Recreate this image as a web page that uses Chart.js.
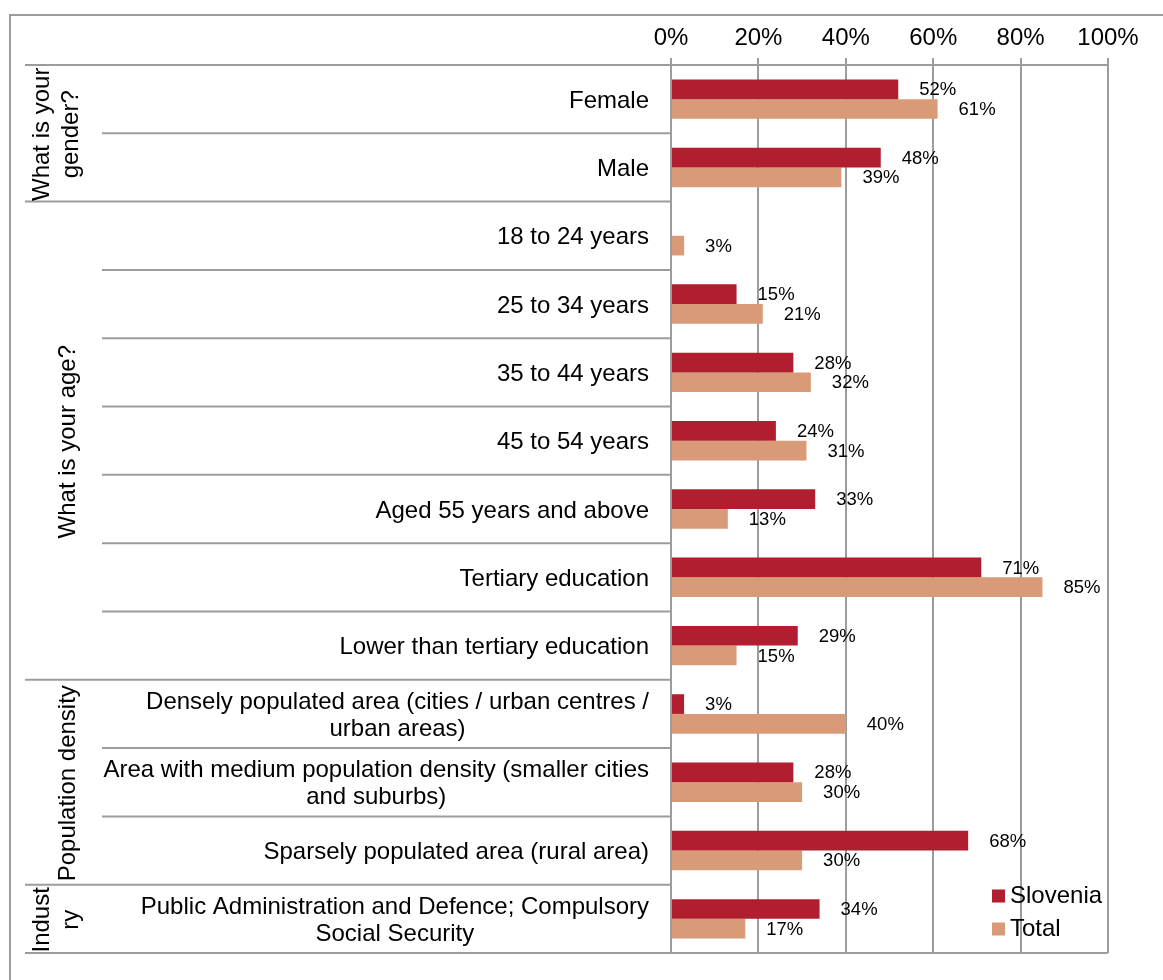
<!DOCTYPE html>
<html>
<head>
<meta charset="utf-8">
<title>Respondent profile – Slovenia vs Total</title>
<script src="https://cdn.jsdelivr.net/npm/chart.js@4.4.1/dist/chart.umd.min.js"></script>
<style>
  html, body { margin: 0; padding: 0; background: #fff; }
  #wrap { position: relative; width: 1163px; height: 980px; }
</style>
</head>
<body>
<div id="wrap"><canvas id="c"></canvas></div>
<script>
// Category labels (one entry per row, multi-line where the label wraps)
const categories = [
  ['Female'],
  ['Male'],
  ['18 to 24 years'],
  ['25 to 34 years'],
  ['35 to 44 years'],
  ['45 to 54 years'],
  ['Aged 55 years and above'],
  ['Tertiary education'],
  ['Lower than tertiary education'],
  ['Densely populated area (cities / urban centres /', 'urban areas)'],
  ['Area with medium population density (smaller cities', 'and suburbs)'],
  ['Sparsely populated area (rural area)'],
  ['Public Administration and Defence; Compulsory', 'Social Security']
];

// Question groups shown in the outer label column
const groupTitles = [['What is your', 'gender?'], ['What is your age?'], ['Population density'], ['Indust', 'ry']];
const groupSizes = [2, 7, 3, 1];

// Series values in percent
const sloveniaValues = [52, 48, null, 15, 28, 24, 33, 71, 29, 3, 28, 68, 34];
const totalValues    = [61, 39, 3, 21, 32, 31, 13, 85, 15, 40, 30, 30, 17];

// Axis ticks
const xTickValues = [0, 20, 40, 60, 80, 100];
const xTickLabels = ['0%', '20%', '40%', '60%', '80%', '100%'];

const FONT = "'Liberation Sans', Arial, Helvetica, sans-serif";
const TEXT_SIZE = 24;
const VALUE_SIZE = 18.5;
const LINE = '#9c9c9c';
const RED = '#B01E2F';
const SALMON = '#D99A78';

Chart.defaults.font.family = FONT;
Chart.defaults.color = '#000';

function boundaryY(yScale, ca, b) {
  if (b === 0) return ca.top;
  if (b === categories.length) return ca.bottom;
  return (yScale.getPixelForValue(b - 1) + yScale.getPixelForValue(b)) / 2;
}

const decor = {
  id: 'decor',
  beforeDraw(chart) {
    const ctx = chart.ctx;
    ctx.save();
    ctx.strokeStyle = LINE;
    ctx.lineWidth = 2;
    // outer frame running off the right and bottom edges
    ctx.beginPath();
    ctx.moveTo(10, chart.height + 5);
    ctx.lineTo(10, 15);
    ctx.lineTo(chart.width + 5, 15);
    ctx.stroke();
    ctx.restore();
  },
  afterDraw(chart) {
    const ctx = chart.ctx;
    const ca = chart.chartArea;
    const yScale = chart.scales.y;
    const n = categories.length;

    // group boundaries
    const groupStarts = new Set();
    let acc = 0;
    const spans = groupSizes.map(s => { const a = acc; groupStarts.add(a); acc += s; return [a, acc]; });
    groupStarts.add(n);

    ctx.save();
    ctx.strokeStyle = LINE;
    ctx.lineWidth = 2;
    for (let b = 0; b <= n; b++) {
      const y = boundaryY(yScale, ca, b);
      const x0 = groupStarts.has(b) ? 25 : 102;
      const x1 = b === n ? ca.right : ca.left;
      ctx.beginPath();
      ctx.moveTo(x0, y);
      ctx.lineTo(x1, y);
      ctx.stroke();
    }
    ctx.restore();

    // category labels: block right-aligned, lines centred within the block
    ctx.save();
    ctx.fillStyle = '#000';
    ctx.font = TEXT_SIZE + 'px ' + FONT;
    ctx.textBaseline = 'middle';
    ctx.textAlign = 'center';
    const rightX = ca.left - 22;
    const lh = 27;
    categories.forEach((lines, i) => {
      const cy = yScale.getPixelForValue(i) + 2;
      const w = Math.max(...lines.map(l => ctx.measureText(l).width));
      const cx = rightX - w / 2;
      lines.forEach((l, k) => {
        ctx.fillText(l, cx, cy + (k - (lines.length - 1) / 2) * lh);
      });
    });
    ctx.restore();

    // rotated group titles
    ctx.save();
    ctx.fillStyle = '#000';
    ctx.font = TEXT_SIZE + 'px ' + FONT;
    ctx.textBaseline = 'middle';
    ctx.textAlign = 'center';
    spans.forEach(([a, b], g) => {
      const lines = groupTitles[g];
      const cy = (boundaryY(yScale, ca, a) + boundaryY(yScale, ca, b)) / 2 + 1;
      const cx = lines.length > 1 ? 57 : 68;
      ctx.save();
      ctx.translate(cx, cy);
      ctx.rotate(-Math.PI / 2);
      lines.forEach((l, k) => {
        ctx.fillText(l, 0, (k - (lines.length - 1) / 2) * 29);
      });
      ctx.restore();
    });
    ctx.restore();

    // legend inside the plot, bottom right
    ctx.save();
    ctx.font = TEXT_SIZE + 'px ' + FONT;
    ctx.textBaseline = 'middle';
    ctx.textAlign = 'left';
    const lx = ca.right - 116;
    const rows = [ca.bottom - 57, ca.bottom - 24];
    chart.data.datasets.forEach((ds, k) => {
      const y = rows[k];
      ctx.fillStyle = ds.backgroundColor;
      ctx.fillRect(lx, y - 6.5, 13, 13);
      ctx.fillStyle = '#000';
      ctx.fillText(ds.label, lx + 18, y);
    });
    ctx.restore();
  },
  afterDatasetsDraw(chart) {
    const ctx = chart.ctx;
    ctx.save();
    ctx.fillStyle = '#000';
    ctx.font = VALUE_SIZE + 'px ' + FONT;
    ctx.textBaseline = 'middle';
    ctx.textAlign = 'left';
    chart.data.datasets.forEach((ds, d) => {
      const meta = chart.getDatasetMeta(d);
      meta.data.forEach((el, i) => {
        const v = ds.data[i];
        if (v === null || v === undefined) return;
        ctx.fillText(v + '%', el.x + 21, el.y + 1);
      });
    });
    ctx.restore();
  }
};

new Chart(document.getElementById('c'), {
  type: 'bar',
  data: {
    labels: categories,
    datasets: [
      { label: 'Slovenia', data: sloveniaValues, backgroundColor: RED,
        categoryPercentage: 0.577, barPercentage: 1.0 },
      { label: 'Total', data: totalValues, backgroundColor: SALMON,
        categoryPercentage: 0.577, barPercentage: 1.0 }
    ]
  },
  options: {
    indexAxis: 'y',
    responsive: true,
    maintainAspectRatio: false,
    animation: false,
    layout: { padding: { left: 0, top: 0, right: 55, bottom: 27 } },
    plugins: { legend: { display: false }, tooltip: { enabled: false } },
    scales: {
      x: {
        type: 'linear',
        position: 'top',
        min: xTickValues[0],
        max: xTickValues[xTickValues.length - 1],
        afterBuildTicks(scale) { scale.ticks = xTickValues.map(v => ({ value: v })); },
        ticks: {
          callback: (v) => xTickLabels[xTickValues.indexOf(v)],
          font: { size: TEXT_SIZE },
          color: '#000',
          padding: 5,
          maxRotation: 0
        },
        grid: { color: LINE, lineWidth: 2, tickLength: 7, drawTicks: true, tickColor: LINE },
        border: { display: true, color: LINE, width: 2 },
        afterFit(scale) { scale.height = 65; }
      },
      y: {
        type: 'category',
        ticks: { display: false },
        grid: { display: false },
        border: { display: true, color: LINE, width: 2 },
        afterFit(scale) { scale.width = 671; }
      }
    }
  },
  plugins: [decor]
});
</script>
</body>
</html>
